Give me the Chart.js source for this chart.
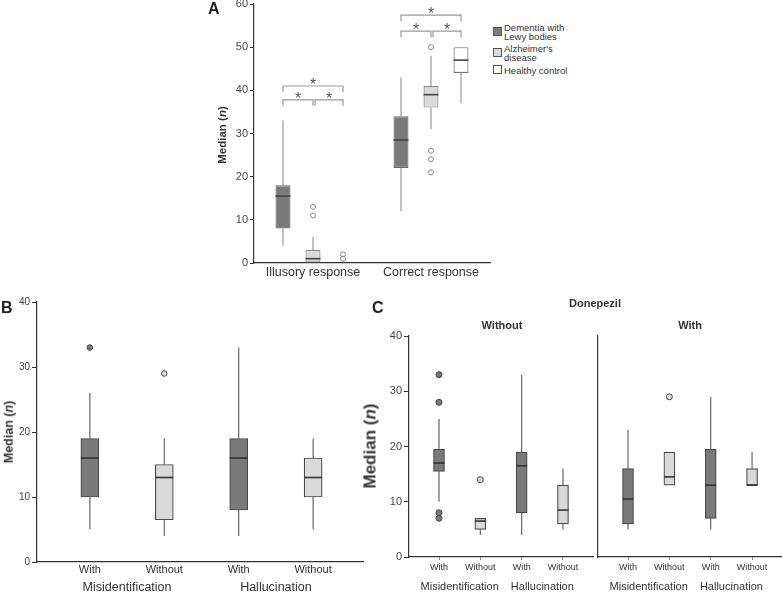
<!DOCTYPE html>
<html>
<head>
<meta charset="utf-8">
<script src="https://cdn.jsdelivr.net/npm/chart.js@4.4.1/dist/chart.umd.min.js"></script>
<style>
  body { margin: 0; width: 782px; height: 593px; position: relative; overflow: hidden; background: #fff;
         font-family: "Liberation Sans", Arial, sans-serif; color: #333; }
  canvas { position: absolute; }
  .t { position: absolute; transform: translate(-50%, -50%); white-space: nowrap; line-height: 1; }
  .rot { position: absolute; transform: translate(-50%, -50%) rotate(-90deg); white-space: nowrap; line-height: 1; font-weight: bold; color: #333; }
  .letter { position: absolute; font-weight: bold; font-size: 16px; line-height: 16px; color: #222; }
  .sw { position: absolute; width: 9px; height: 9px; box-sizing: border-box; border: 1px solid #555; }
  .lg { position: absolute; font-size: 9.5px; line-height: 9.5px; color: #333; }
</style>
</head>
<body>
<canvas id="chartA" width="278" height="290" style="left:214px;top:0px"></canvas>
<canvas id="chartB" width="370" height="303" style="left:0px;top:290px"></canvas>
<canvas id="chartC1" width="240" height="303" style="left:360px;top:290px"></canvas>
<canvas id="chartC2" width="185" height="303" style="left:597px;top:290px"></canvas>

<div class="letter" style="left:208px;top:1px">A</div>
<div class="letter" style="left:1px;top:300px">B</div>
<div class="letter" style="left:372px;top:300px">C</div>

<div class="rot" style="left:223px;top:135px;font-size:11.5px">Median (<i>n</i>)</div>
<div class="rot" style="left:9px;top:432px;font-size:12.5px">Median (<i>n</i>)</div>
<div class="rot" style="left:370px;top:446px;font-size:17px">Median (<i>n</i>)</div>

<div class="t" style="left:595px;top:303px;font-size:11px;font-weight:bold">Donepezil</div>
<div class="t" style="left:502px;top:325px;font-size:11px;font-weight:bold">Without</div>
<div class="t" style="left:690px;top:325px;font-size:11px;font-weight:bold">With</div>

<div class="sw" style="left:493px;top:27px;background:#7a7a7a"></div>
<div class="lg" style="left:504px;top:22.5px">Dementia with<br>Lewy bodies</div>
<div class="sw" style="left:493px;top:48px;background:#d9d9d9"></div>
<div class="lg" style="left:504px;top:43.5px">Alzheimer's<br>disease</div>
<div class="sw" style="left:493px;top:65px;background:#fff"></div>
<div class="lg" style="left:504px;top:65.5px">Healthy control</div>

<script>
// ---- panel A: each entry is [low whisker, Q1, median, Q3, high whisker]
const aCategories = ['Illusory response', 'Correct response'];
const aGroups = ['Dementia with Lewy bodies', "Alzheimer's disease", 'Healthy control'];
const aDementiaLewy = [[4, 8, 15.5, 18, 33], [12, 22, 28.5, 34, 43]];
const aAlzheimer = [[0, 0, 1, 3, 6], [31, 36, 39, 41, 48]];
const aHealthy = [[0, 0, 0, 0, 0], [37, 44, 47, 50, 50]];
const aDementiaLewyOut = [[], []];
const aAlzheimerOut = [[11, 13], [21, 24, 26, 50]];
const aHealthyOut = [[1, 2], []];
const aSigInner = [37.8, 53.7];
const aSigOuter = [41, 57.4];

// ---- panels B and C
const subgroupLabels = ['With', 'Without', 'With', 'Without'];
const symptomLabels = ['Misidentification', 'Hallucination'];
const bStats = [[5, 10, 16, 19, 26], [4, 6.5, 13, 15, 19], [4, 8, 16, 19, 33], [5, 10, 13, 16, 19]];
const bOutliers = [[33], [29], [], []];
const cWithoutStats = [[10, 15.5, 17, 19.5, 25], [4, 5, 6.5, 7, 7], [4, 8, 16.5, 19, 33], [5, 6, 8.5, 13, 16]];
const cWithoutOutliers = [[33, 28, 8, 7], [14], [], []];
const cWithStats = [[5, 6, 10.5, 16, 23], [13, 13, 14.5, 19, 19], [5, 7, 13, 19.5, 29], [13, 13, 13, 16, 19]];
const cWithOutliers = [[], [29], [], []];

const FONT = '"Liberation Sans", Arial, sans-serif';
const DARK = '#7a7a7a', LIGHT = '#d9d9d9', AXIS = '#333';
Chart.defaults.font.family = FONT;

const boxPlot = {
  id: 'boxPlot',
  beforeDatasetsDraw(chart, args, opts) {
    const ctx = chart.ctx, y = chart.scales.y;
    ctx.save();
    ctx.strokeStyle = opts.whisker;
    ctx.lineWidth = 1.2;
    chart.data.datasets.forEach((ds, di) => {
      chart.getDatasetMeta(di).data.forEach((bar, i) => {
        const s = ds.stats[i];
        ctx.beginPath();
        if (s[4] > s[3]) { ctx.moveTo(bar.x, y.getPixelForValue(s[3])); ctx.lineTo(bar.x, y.getPixelForValue(s[4])); }
        if (s[1] > s[0]) { ctx.moveTo(bar.x, y.getPixelForValue(s[1])); ctx.lineTo(bar.x, y.getPixelForValue(s[0])); }
        ctx.stroke();
      });
    });
    ctx.restore();
  },
  afterDatasetsDraw(chart, args, opts) {
    const ctx = chart.ctx, y = chart.scales.y;
    ctx.save();
    chart.data.datasets.forEach((ds, di) => {
      chart.getDatasetMeta(di).data.forEach((bar, i) => {
        const s = ds.stats[i], half = bar.width / 2;
        if (s[3] > s[1]) {
          ctx.strokeStyle = opts.median;
          ctx.lineWidth = 1.6;
          ctx.beginPath();
          ctx.moveTo(bar.x - half, y.getPixelForValue(s[2]));
          ctx.lineTo(bar.x + half, y.getPixelForValue(s[2]));
          ctx.stroke();
        }
        ds.outliers[i].forEach(v => {
          ctx.beginPath();
          ctx.arc(bar.x, y.getPixelForValue(v), opts.radius, 0, Math.PI * 2);
          if (opts.filled) {
            ctx.fillStyle = bar.options.backgroundColor;
            ctx.fill();
            ctx.strokeStyle = '#444';
          } else {
            ctx.strokeStyle = '#888';
          }
          ctx.lineWidth = 1;
          ctx.stroke();
        });
      });
    });
    ctx.restore();
  }
};

const brackets = {
  id: 'brackets',
  afterDatasetsDraw(chart) {
    const ctx = chart.ctx, y = chart.scales.y;
    ctx.save();
    ctx.strokeStyle = '#999';
    ctx.lineWidth = 1.2;
    ctx.fillStyle = '#555';
    ctx.font = '16px ' + FONT;
    ctx.textAlign = 'center';
    ctx.textBaseline = 'alphabetic';
    aCategories.forEach((c, i) => {
      const xs = [0, 1, 2].map(d => chart.getDatasetMeta(d).data[i].x);
      const yo = y.getPixelForValue(aSigOuter[i]), yi = y.getPixelForValue(aSigInner[i]);
      const drop = 6;
      const seg = (x1, x2, yy) => {
        ctx.beginPath();
        ctx.moveTo(x1, yy + drop); ctx.lineTo(x1, yy); ctx.lineTo(x2, yy); ctx.lineTo(x2, yy + drop);
        ctx.stroke();
        ctx.fillText('*', (x1 + x2) / 2, yy + 4);
      };
      seg(xs[0], xs[2], yo);
      seg(xs[0], xs[1], yi);
      seg(xs[1] + 2, xs[2], yi);
    });
    ctx.restore();
  }
};

const groupLabels = {
  id: 'groupLabels',
  afterDraw(chart, args, opts) {
    const ctx = chart.ctx, x = chart.scales.x;
    ctx.save();
    ctx.font = opts.size + 'px ' + FONT;
    ctx.fillStyle = '#333';
    ctx.textAlign = 'center';
    ctx.textBaseline = 'middle';
    symptomLabels.forEach((t, g) => {
      const cx = (x.getPixelForValue(2 * g + 1) + x.getPixelForValue(2 * g + 2)) / 2;
      ctx.fillText(t, cx, chart.chartArea.bottom + opts.offset);
    });
    ctx.restore();
  }
};

// panel A
new Chart(document.getElementById('chartA'), {
  type: 'bar',
  data: {
    labels: aCategories,
    datasets: [
      { label: aGroups[0], data: aDementiaLewy.map(s => [s[1], s[3]]), stats: aDementiaLewy, outliers: aDementiaLewyOut,
        backgroundColor: DARK, borderColor: '#6a6a6a' },
      { label: aGroups[1], data: aAlzheimer.map(s => [s[1], s[3]]), stats: aAlzheimer, outliers: aAlzheimerOut,
        backgroundColor: LIGHT, borderColor: '#888' },
      { label: aGroups[2], data: aHealthy.map(s => [s[1], s[3]]), stats: aHealthy, outliers: aHealthyOut,
        backgroundColor: '#fff', borderColor: '#777' }
    ]
  },
  plugins: [boxPlot, brackets],
  options: {
    responsive: false,
    animation: false,
    layout: { padding: { top: 4, right: 2, left: 0, bottom: 0 } },
    datasets: { bar: { categoryPercentage: 0.763, barPercentage: 0.5, borderWidth: 1.2, borderSkipped: false } },
    plugins: {
      legend: { display: false },
      tooltip: { enabled: false },
      boxPlot: { whisker: '#999', median: '#444', radius: 2.5, filled: false }
    },
    scales: {
      x: {
        grid: { display: false, drawTicks: false },
        border: { display: true, color: AXIS, width: 1.2 },
        ticks: { font: { size: 12.5 }, color: '#333', padding: 2, maxRotation: 0 },
        afterFit: s => { s.height = 27; s.paddingLeft = 0; s.paddingRight = 0; }
      },
      y: {
        min: 0, max: 60,
        ticks: { stepSize: 10, font: { size: 11 }, color: '#444', padding: 2 },
        grid: { drawOnChartArea: false, drawTicks: true, tickLength: 4, color: AXIS },
        border: { display: true, color: AXIS, width: 1.2 },
        afterFit: s => { s.width = 40; s.paddingTop = 0; s.paddingBottom = 0; }
      }
    }
  }
});

function boxPanel(id, stats, outliers, cfg) {
  return new Chart(document.getElementById(id), {
    type: 'bar',
    data: {
      datasets: [{
        data: stats.map((s, i) => ({ x: i + 1, y: [s[1], s[3]] })),
        stats: stats,
        outliers: outliers,
        backgroundColor: stats.map((s, i) => i % 2 ? LIGHT : DARK),
        borderColor: '#4a4a4a',
        borderWidth: 1.2,
        borderSkipped: false,
        barThickness: cfg.barWidth
      }]
    },
    plugins: [boxPlot, groupLabels],
    options: {
      responsive: false,
      animation: false,
      layout: { padding: cfg.padding },
      plugins: {
        legend: { display: false },
        tooltip: { enabled: false },
        boxPlot: { whisker: '#666', median: '#333', radius: cfg.radius, filled: true },
        groupLabels: { size: cfg.groupFont, offset: cfg.groupOffset }
      },
      scales: {
        x: {
          type: 'linear', min: cfg.xMin, max: cfg.xMax, offset: false,
          afterBuildTicks: s => { s.ticks = subgroupLabels.map((l, i) => ({ value: i + 1 })); },
          ticks: { callback: v => subgroupLabels[v - 1], font: { size: cfg.tickFont }, color: '#333',
                   padding: cfg.xPad, autoSkip: false, maxRotation: 0 },
          grid: { display: cfg.xMarks > 0, offset: false, drawOnChartArea: false, drawTicks: cfg.xMarks > 0,
                  tickLength: cfg.xMarks, color: '#888' },
          border: { display: true, color: AXIS, width: 1.2 },
          afterFit: s => { s.height = cfg.xHeight; s.paddingLeft = 0; s.paddingRight = 0; }
        },
        y: {
          min: 0, max: 40,
          ticks: { display: cfg.yTicks, stepSize: 10, font: { size: cfg.yFont }, color: '#444', padding: 2 },
          grid: { display: cfg.yTicks, drawOnChartArea: false, drawTicks: true, tickLength: 5, color: AXIS },
          border: { display: true, color: AXIS, width: 1.2 },
          afterFit: s => { s.width = cfg.yWidth; s.paddingTop = 0; s.paddingBottom = 0; }
        }
      }
    }
  });
}

boxPanel('chartB', bStats, bOutliers, {
  barWidth: 18, radius: 2.8, padding: { top: 12, right: 7, left: 0, bottom: 0 },
  xMin: 0.29, xMax: 4.67, xHeight: 31, xPad: 1, xMarks: 0, tickFont: 11, groupFont: 12.5, groupOffset: 26,
  yTicks: true, yFont: 10, yWidth: 37
});
boxPanel('chartC1', cWithoutStats, cWithoutOutliers, {
  barWidth: 11, radius: 3, padding: { top: 46, right: 7, left: 0, bottom: 0 },
  xMin: 0.274, xMax: 4.726, xHeight: 36, xPad: 2, xMarks: 3, tickFont: 9, groupFont: 11, groupOffset: 30,
  yTicks: true, yFont: 11, yWidth: 49
});
boxPanel('chartC2', cWithStats, cWithOutliers, {
  barWidth: 11, radius: 3, padding: { top: 46, right: 1, left: 1, bottom: 0 },
  xMin: 0.274, xMax: 4.70, xHeight: 36, xPad: 2, xMarks: 3, tickFont: 9, groupFont: 11, groupOffset: 30,
  yTicks: false, yFont: 11, yWidth: 0
});
</script>
</body>
</html>
